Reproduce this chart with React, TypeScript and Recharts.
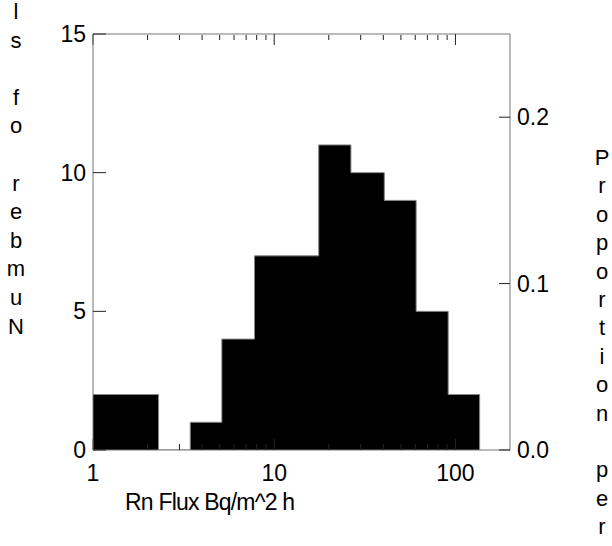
import { Area, ComposedChart, XAxis, YAxis } from "recharts";

// histogram bins on a log axis: bin edges (Bq/m^2 h) and counts per bin
const binEdges = [1, 1.51, 2.3, 3.44, 5.14, 7.78, 11.7, 17.6, 26.5, 40.5, 60.7, 91.2, 136];
const counts = [2, 2, 0, 1, 4, 7, 7, 11, 10, 9, 5, 2];

const xMajorTicks = [1, 10, 100];
const xMinorTicks = [2, 3, 4, 5, 6, 7, 8, 9, 20, 30, 40, 50, 60, 70, 80, 90];
const countTicks = [0, 5, 10, 15];
const propTicks = [0, 0.1, 0.2];

const leftTitle = "Number of sl";
const rightTitle = "Proportion per";
const xTitle = "Rn Flux Bq/m^2 h";

const total = counts.reduce((a, b) => a + b, 0);
const table = binEdges.map((x, i) => ({ x, count: counts[i] ?? 0 }));

const FONT = '"Liberation Sans", Arial, sans-serif';
const AXIS = "#777";
const TICK = "#222";
const LABEL = { fill: "#000", fontSize: 23, fontFamily: FONT };
const X_DOMAIN: [number, number] = [1, 200];
const noLabel = () => "";

const StackedText = ({ text, left, top, step }: { text: string; left: number; top: number; step: number }) => (
  <div style={{ position: "absolute", left, top, width: 30, textAlign: "center" }}>
    {text.split("").map((ch, i) => (
      <div key={i} style={{ height: step, lineHeight: `${step}px`, fontSize: 22 }}>
        {ch === " " ? "\u00a0" : ch}
      </div>
    ))}
  </div>
);

export default function App() {
  return (
    <div
      style={{
        position: "absolute", left: 0, top: 0, width: 612, height: 546,
        overflow: "hidden", background: "#fff", fontFamily: FONT, color: "#000",
      }}
    >
      <ComposedChart width={612} height={546} data={table} margin={{ top: 34, right: 42, bottom: 46, left: 33 }}>
        <XAxis
          dataKey="x" type="number" scale="log" domain={X_DOMAIN} allowDataOverflow
          ticks={xMajorTicks} interval={0} height={50} tickSize={-11} tickMargin={26}
          axisLine={{ stroke: AXIS }} tickLine={{ stroke: TICK }} tick={LABEL}
        />
        <XAxis
          xAxisId="minorBottom" dataKey="x" type="number" scale="log" domain={X_DOMAIN} allowDataOverflow
          ticks={xMinorTicks} interval={0} minTickGap={0} mirror height={1} tickSize={6} tickFormatter={noLabel}
          axisLine={false} tickLine={{ stroke: TICK }}
        />
        <XAxis
          xAxisId="majorTop" dataKey="x" orientation="top" type="number" scale="log" domain={X_DOMAIN} allowDataOverflow
          ticks={xMajorTicks} interval={0} minTickGap={0} mirror height={1} tickSize={11} tickFormatter={noLabel}
          axisLine={{ stroke: AXIS }} tickLine={{ stroke: TICK }}
        />
        <XAxis
          xAxisId="minorTop" dataKey="x" orientation="top" type="number" scale="log" domain={X_DOMAIN} allowDataOverflow
          ticks={xMinorTicks} interval={0} minTickGap={0} mirror height={1} tickSize={5} tickFormatter={noLabel}
          axisLine={false} tickLine={{ stroke: TICK }}
        />
        <YAxis
          yAxisId="count" type="number" domain={[0, 15]} allowDataOverflow ticks={countTicks} interval={0}
          width={60} tickSize={-13} tickMargin={20}
          axisLine={{ stroke: AXIS }} tickLine={{ stroke: TICK }} tick={LABEL}
        />
        <YAxis
          yAxisId="prop" orientation="right" type="number" domain={[0, 15 / total]} allowDataOverflow
          ticks={propTicks} interval={0} width={60} tickSize={-11} tickMargin={18}
          tickFormatter={(v: number) => v.toFixed(1)}
          axisLine={{ stroke: AXIS }} tickLine={{ stroke: TICK }} tick={LABEL}
        />
        <Area
          yAxisId="count" type="stepAfter" dataKey="count" fill="#000" fillOpacity={1}
          stroke="#888" strokeWidth={1} dot={false} activeDot={false} isAnimationActive={false}
        />
      </ComposedChart>

      <StackedText text={leftTitle.split("").reverse().join("")} left={1} top={-2} step={28.6} />
      <StackedText text={rightTitle} left={587} top={144} step={28.4} />

      <div
        style={{
          position: "absolute", left: 125, top: 491, fontSize: 23, lineHeight: "23px",
          letterSpacing: -0.8, whiteSpace: "nowrap",
        }}
      >
        {xTitle}
      </div>
    </div>
  );
}
